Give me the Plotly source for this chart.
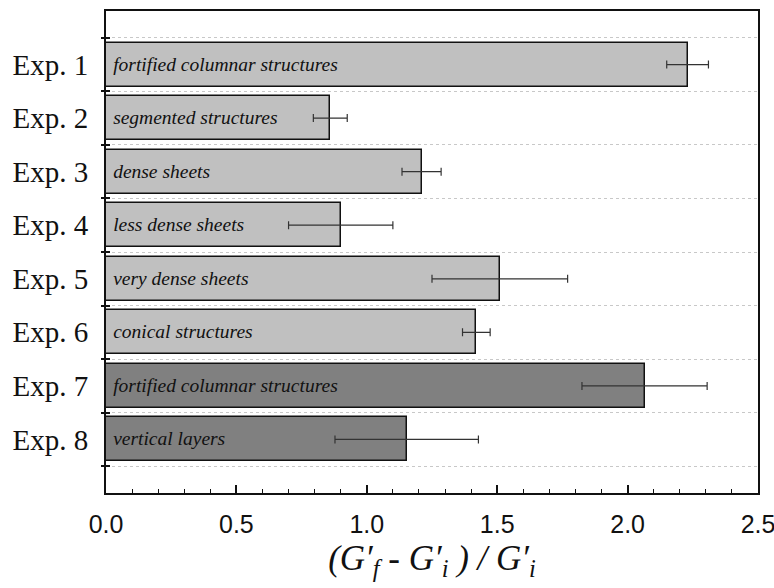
import plotly.graph_objects as go

# Experiments, relative storage-modulus gain and its uncertainty
experiments = ["Exp. 1", "Exp. 2", "Exp. 3", "Exp. 4", "Exp. 5", "Exp. 6", "Exp. 7", "Exp. 8"]
structures = [
    "fortified columnar structures",
    "segmented structures",
    "dense sheets",
    "less dense sheets",
    "very dense sheets",
    "conical structures",
    "fortified columnar structures",
    "vertical layers",
]
gain = [2.23, 0.86, 1.21, 0.90, 1.51, 1.42, 2.065, 1.153]
gain_err = [0.08, 0.065, 0.075, 0.20, 0.26, 0.053, 0.24, 0.275]
bar_colors = ["#c0c0c0"] * 6 + ["#808080"] * 2

positions = list(range(len(experiments)))
boundaries = [p - 0.5 for p in positions] + [positions[-1] + 0.5]
y_range = [len(experiments), -1]

SERIF = "Liberation Serif"
SANS = "Liberation Sans"

fig = go.Figure()

fig.add_trace(go.Bar(
    x=gain,
    y=positions,
    orientation="h",
    width=0.82,
    marker=dict(color=bar_colors, line=dict(color="#111111", width=1.5)),
    error_x=dict(type="data", array=gain_err, color="#333333", thickness=1.2, width=4),
    text=["<i>\u00a0" + s + "</i>" for s in structures],
    textposition="inside",
    insidetextanchor="start",
    constraintext="none",
    insidetextfont=dict(family=SERIF, size=19.5, color="#111111"),
    showlegend=False,
    hoverinfo="x+y",
))

# invisible helpers so the tick-mark overlay axes are drawn
for ax in ["y2", "y3"]:
    fig.add_trace(go.Scatter(x=[0], y=[0], yaxis=ax, mode="markers",
                             marker=dict(opacity=0), showlegend=False, hoverinfo="skip"))

fig.update_layout(
    width=774,
    height=588,
    margin=dict(l=106, r=16, t=11, b=95),
    paper_bgcolor="white",
    plot_bgcolor="white",
    bargap=0,
    xaxis=dict(
        range=[0, 2.5],
        tickvals=[0, 0.5, 1.0, 1.5, 2.0, 2.5],
        ticktext=["0.0", "0.5", "1.0", "1.5", "2.0", "2.5"],
        ticks="inside",
        ticklen=8,
        tickwidth=1.5,
        tickcolor="#111111",
        minor=dict(dtick=0.1, ticks="inside", ticklen=4, tickwidth=1, tickcolor="#111111", showgrid=False),
        showgrid=False,
        zeroline=False,
        showline=True,
        linecolor="#111111",
        linewidth=2,
        mirror=True,
        automargin=False,
        ticklabeloverflow="allow",
        ticklabelstandoff=8,
        tickfont=dict(family=SANS, size=25, color="#111111"),
        title=dict(
            text="<i>(G′<sub>f</sub> - G′<sub>i</sub> ) / G′<sub>i</sub></i>",
            font=dict(family=SERIF, size=35, color="#111111"),
            standoff=8,
        ),
    ),
    yaxis=dict(
        range=y_range,
        tickvals=positions,
        ticktext=experiments,
        ticks="",
        showgrid=False,
        zeroline=False,
        showline=True,
        linecolor="#111111",
        linewidth=2,
        mirror=True,
        automargin=False,
        ticklabelstandoff=10,
        tickfont=dict(family=SERIF, size=29, color="#111111"),
    ),
    yaxis2=dict(
        overlaying="y",
        range=y_range,
        tickvals=boundaries,
        ticks="outside",
        ticklen=4,
        tickwidth=1.5,
        tickcolor="#111111",
        showticklabels=False,
        showgrid=True,
        gridcolor="#c8c8c8",
        gridwidth=1,
        griddash="dot",
        zeroline=False,
        showline=False,
        automargin=False,
        layer="below traces",
    ),
    yaxis3=dict(
        overlaying="y",
        range=y_range,
        tickvals=boundaries,
        ticks="inside",
        ticklen=4,
        tickwidth=1.5,
        tickcolor="#111111",
        showticklabels=False,
        showgrid=False,
        zeroline=False,
        showline=False,
        automargin=False,
    ),
)

fig.write_html("out.html")
